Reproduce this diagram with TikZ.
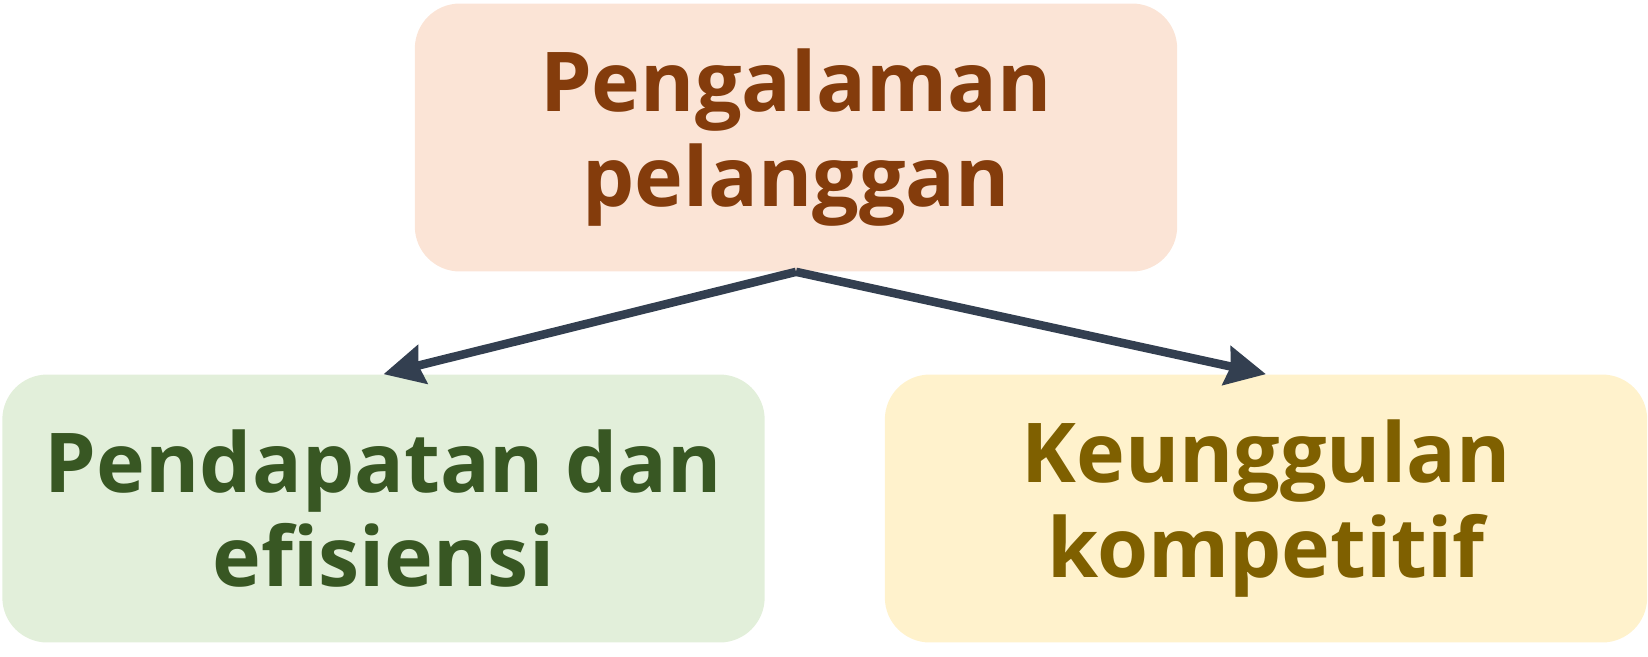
\documentclass[tikz,border=0pt]{standalone}
\usepackage{fontspec}
\setmainfont{Open Sans}
\usepackage{xcolor}
\usetikzlibrary{arrows.meta}

\definecolor{peachfill}{HTML}{FBE4D6}
\definecolor{peachtext}{HTML}{843C0C}
\definecolor{greenfill}{HTML}{E2EFDA}
\definecolor{greentext}{HTML}{385723}
\definecolor{yellowfill}{HTML}{FFF2CC}
\definecolor{yellowtext}{HTML}{7F6000}
\definecolor{arrowgray}{HTML}{333F50}

\begin{document}
\begin{tikzpicture}[
        x = 0.02cm,
        y = -0.02cm,
        box/.style = {rectangle, rounded corners = 0.9cm, align = center,
            minimum width = 15.25cm, minimum height = 5.36cm, inner sep = 0pt,
            font = \fontsize{47}{54}\selectfont\bfseries},
        link/.style = {-{Stealth[length=0.8cm, width=0.78cm, inset=0.08cm]},
            line width = 0.17cm, draw = arrowgray}]
        \useasboundingbox (0,0) rectangle (1648,656);
        % NODES
        % node top
        \node[box, fill = peachfill, text = peachtext] (PL) at (796,137.5) {Pengalaman\\pelanggan};
        % node left
        \node[box, fill = greenfill, text = greentext] (PE) at (383.5,508.5) {Pendapatan dan\\efisiensi};
        % node right
        \node[box, fill = yellowfill, text = yellowtext] (KK) at (1266,508.5) {Keunggulan\\kompetitif};

        % ARROWS
        \draw[link] (PL.south) -- (PE.north);
        \draw[link] (PL.south) -- (KK.north);
    \end{tikzpicture}
\end{document}
